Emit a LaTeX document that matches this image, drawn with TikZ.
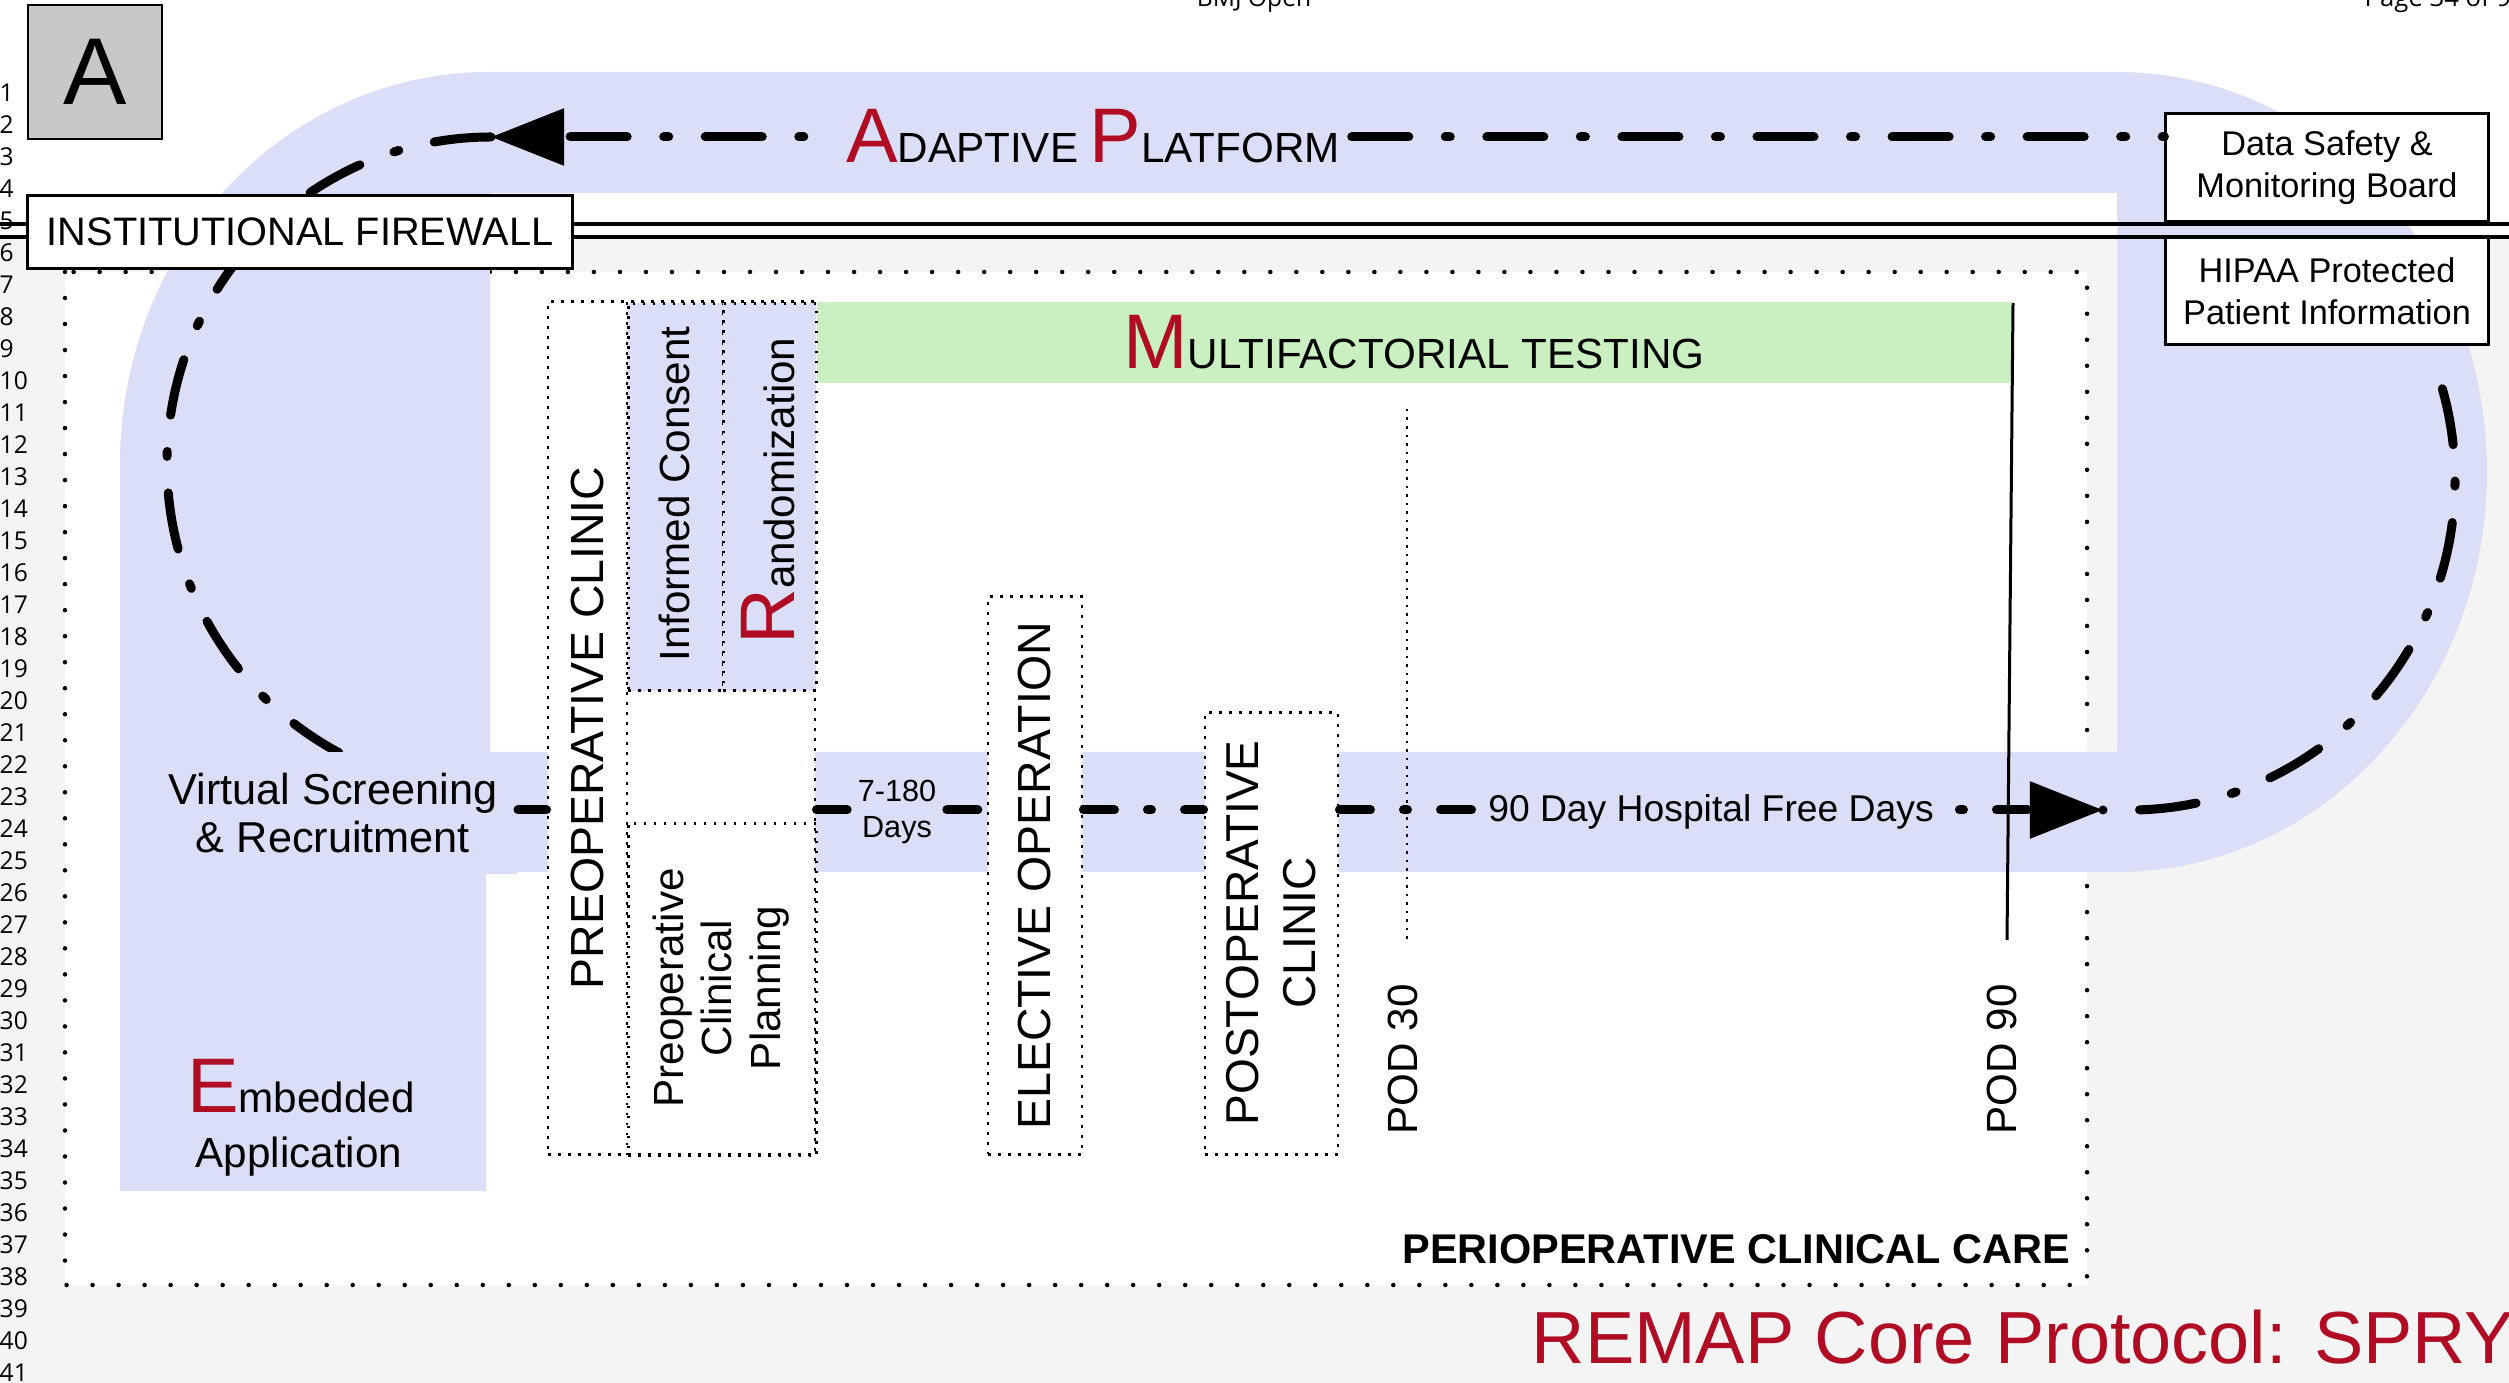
\documentclass[tikz,border=0pt]{standalone}
\usepackage{fontspec}
\setmainfont{Liberation Sans}
\newfontfamily\numfont{Open Sans}
\usetikzlibrary{arrows.meta}

\definecolor{bandblue}{RGB}{218,222,246}
\definecolor{mfgreen}{RGB}{202,240,193}
\definecolor{remapred}{RGB}{176,12,36}
\definecolor{speck}{RGB}{244,244,244}
\definecolor{boxgray}{RGB}{200,200,200}

\newcommand{\AdBig}[1]{{\fontsize{22}{22}\selectfont\color{remapred}#1}}
\newcommand{\AdSmall}[1]{{\fontsize{12}{12}\selectfont #1}}

\tikzset{
  loopline/.style={line width=0.09cm, line cap=round, dash pattern=on 0.57cm off 0.365cm on 0.05cm off 0.365cm},
  tline/.style={line width=0.09cm, line cap=round, dash pattern=on 0.31cm off 0.33cm on 0.04cm off 0.33cm},
  dotbox/.style={draw, line width=0.028cm, dash pattern=on 0.028cm off 0.072cm},
  framedots/.style={line width=0.045cm, line cap=round, dash pattern=on 0pt off 0.26cm},
  solidbox/.style={draw, line width=0.03cm, fill=white},
  bigtip/.style={-{Triangle[length=0.73cm,width=0.55cm]}},
  rottext/.style={rotate=90, inner sep=0},
}

\begin{document}
\begin{tikzpicture}[x=0.01cm, y=-0.01cm, font=\fontsize{12}{14}\selectfont]
\useasboundingbox (0,0) rectangle (2509,1383);
% background
\fill[white] (0,0) rectangle (2509,1383);
\fill[speck] (0,237) rectangle (2509,1383);

% perioperative clinical care frame
\draw[framedots, fill=white] (65,272) rectangle (2087,1285);

% blue platform band
\fill[bandblue, even odd rule]
  (489,72) -- (2117,72)
  arc[start angle=270, end angle=450, x radius=370, y radius=400]
  -- (486,872) -- (486,1191) -- (120,1191) -- (120,464)
  arc[start angle=180, end angle=270, x radius=369, y radius=392] -- cycle
  (490,193) rectangle (2117,752);

% firewall double line
\draw[line width=0.045cm] (0,224) -- (2509,224);
\draw[line width=0.045cm] (0,237) -- (2509,237);

% multifactorial testing bar
\node[fill=mfgreen, minimum width=11.94cm, minimum height=0.81cm, inner sep=0, anchor=north west] (mft) at (816,301)
  {\AdBig{M}\AdSmall{ULTIFACTORIAL TESTING}};

% adaptive platform loop
\coordinate (tipA) at (491,137);
\coordinate (tipB) at (2103,810);
\node[solidbox, minimum width=3.22cm, minimum height=1.07cm, align=center, font=\fontsize{9.75}{12}\selectfont] (dsmb) at (2327,167.5) {Data Safety \&\\Monitoring Board};
\node[solidbox, minimum width=3.22cm, minimum height=1.06cm, align=center, font=\fontsize{9.75}{12}\selectfont] (hipaa) at (2327,291) {HIPAA Protected\\Patient Information};
\node[inner xsep=0.11cm, inner ysep=0, anchor=base] (adapt) at (1093,163)
  {\AdBig{A}\AdSmall{DAPTIVE} \AdBig{P}\AdSmall{LATFORM}};
\draw[loopline] (adapt.east |- tipA) -- (dsmb.west |- tipA);
\draw[loopline, dash phase=0.63cm, bigtip] (adapt.west |- tipA) -- (tipA);
\draw[loopline] (tipA) arc[start angle=270, end angle=118, x radius=324, y radius=327];
\draw[loopline, dash phase=0.985cm] (tipB) -- ++(27,0) arc[start angle=90, end angle=-22, x radius=325, y radius=330];

% panel letter and firewall box
\node[draw, line width=0.025cm, fill=boxgray, minimum width=1.34cm, minimum height=1.34cm, inner sep=0, font=\fontsize{27}{27}\selectfont] (pa) at (95,72) {A};
\node[solidbox, minimum width=5.44cm, minimum height=0.72cm, font=\fontsize{11.3}{13}\selectfont] (fw) at (300,232) {INSTITUTIONAL FIREWALL};

% preoperative clinic
\node[dotbox, fill=white, minimum width=2.67cm, minimum height=8.52cm, inner sep=0] (preop) at (681.5,728) {};
\node[dotbox, fill=bandblue, minimum width=0.95cm, minimum height=3.87cm, inner sep=0, anchor=north west] (consent) at (627,302) {};
\node[dotbox, fill=bandblue, minimum width=0.93cm, minimum height=3.87cm, inner sep=0, anchor=north west] (rand) at (722,302) {};
\node[dotbox, minimum width=1.88cm, minimum height=3.32cm, inner sep=0, anchor=north west] (plan) at (627,822) {};
\draw[line width=0.028cm, dash pattern=on 0.028cm off 0.072cm] (consent.north west) -- (consent.north west |- preop.south);
\node[rottext, font=\fontsize{13.2}{13.2}\selectfont] (preoptxt) at (588,728) {PREOPERATIVE CLINIC};
\node[rottext, font=\fontsize{12}{12}\selectfont] (consenttxt) at (674,494) {Informed Consent};
\node[rottext] (randtxt) at (768,491) {\AdBig{R}\AdSmall{andomization}};
\node[rottext, align=center, font=\fontsize{12}{13.9}\selectfont] (plantxt) at (721,988) {Preoperative\\Clinical\\Planning};

% elective operation and postoperative clinic
\node[dotbox, fill=white, minimum width=0.94cm, minimum height=5.57cm, inner sep=0] (elec) at (1035,875.5) {};
\node[rottext, font=\fontsize{13.2}{13.2}\selectfont] (electxt) at (1035,876) {ELECTIVE OPERATION};
\node[dotbox, fill=white, minimum width=1.33cm, minimum height=4.41cm, inner sep=0] (postop) at (1271.5,933.5) {};
\node[rottext, align=center, font=\fontsize{13.1}{16}\selectfont] (postoptxt) at (1271,933) {POSTOPERATIVE\\CLINIC};

% timeline
\coordinate (tl) at (0,810);
\node[fill=bandblue, align=center, inner xsep=0.2cm, inner ysep=0.22cm, font=\fontsize{12.3}{13.4}\selectfont] (vs) at (333,813) {Virtual Screening\\\& Recruitment};
\node[align=center, inner xsep=0.1cm, font=\fontsize{8.7}{10}\selectfont] (d7) at (897,812) {7-180\\Days};
\node[inner xsep=0.09cm, font=\fontsize{10.6}{12}\selectfont] (hfd) at (1711,812) {90 Day Hospital Free Days};
\draw[tline] (vs.east |- tl) -- (preop.west |- tl);
\draw[tline] (preop.east |- tl) -- (d7.west |- tl);
\draw[tline] (d7.east |- tl) -- (elec.west |- tl);
\draw[tline] (elec.east |- tl) -- (postop.west |- tl);
\draw[tline] (postop.east |- tl) -- (hfd.west |- tl);
\draw[tline, dash phase=0.48cm, bigtip] (hfd.east |- tl) -- (tipB);

% POD markers
\draw[line width=0.025cm, dash pattern=on 0.025cm off 0.06cm] (1407,409) -- (1407,943);
\draw[line width=0.03cm] (2013,303) -- (2007,940);
\node[rottext, anchor=west, font=\fontsize{12}{12}\selectfont] (pod30) at (1403,1135) {POD 30};
\node[rottext, anchor=west, font=\fontsize{12}{12}\selectfont] (pod90) at (2002,1135) {POD 90};

% embedded application
\node[anchor=base, inner sep=0] (emb) at (301,1112) {\AdBig{E}\AdSmall{mbedded}};
\node[anchor=base, inner sep=0] (app) at (299,1167) {Application};

% captions
\node[anchor=base east, inner sep=0, font=\bfseries\fontsize{11.8}{11.8}\selectfont] (pcc) at (2071,1263) {PERIOPERATIVE CLINICAL CARE};
\node[anchor=base west, inner sep=0, text=remapred, font=\fontsize{21}{21}\selectfont] (remap) at (1531,1363) {REMAP Core Protocol: SPRY};

% page furniture
\foreach \n in {1,...,41}
  \node[anchor=west, inner sep=0, font=\numfont\fontsize{7}{7}\selectfont] (ln\n) at (-1,{93+(\n-1)*32}) {\n};
\node[anchor=base, inner sep=0, font=\numfont\fontsize{7}{7}\selectfont] (hdr) at (1254,7) {BMJ Open};
\node[anchor=base west, inner sep=0, font=\numfont\fontsize{7.3}{7.3}\selectfont] (pg) at (2364,7) {Page 34 of 91};
\end{tikzpicture}
\end{document}
